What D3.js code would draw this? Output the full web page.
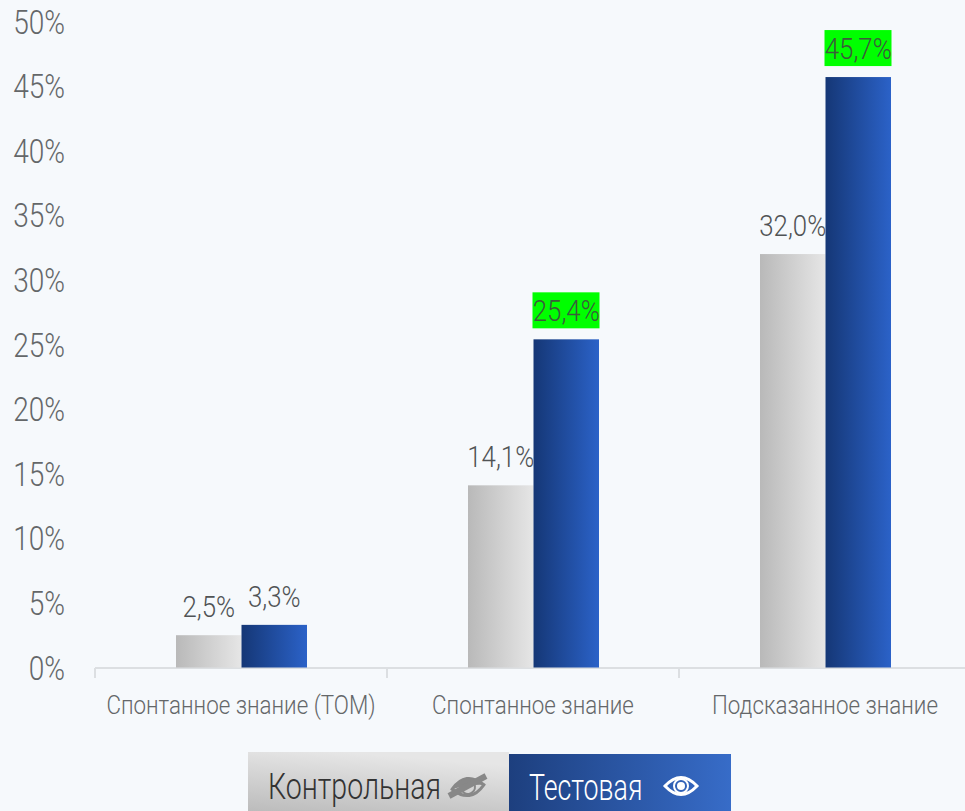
<!DOCTYPE html>
<html>
<head>
<meta charset="utf-8">
<script src="https://cdn.jsdelivr.net/npm/d3@7"></script>
<style>
html, body { margin: 0; padding: 0; background: #f6f9fc; overflow: hidden; }
text { font-family: Roboto, "Liberation Sans", sans-serif; font-weight: 300; }
</style>
</head>
<body>
<div id="chart"></div>
<script>
var categories = ["Спонтанное знание (ТОМ)", "Спонтанное знание", "Подсказанное знание"];
var seriesNames = ["Контрольная", "Тестовая"];
var controlValues = [2.5, 14.1, 32.0];
var testValues = [3.3, 25.4, 45.7];
var labelHighlighted = [false, true, true];
var yTicks = [0, 5, 10, 15, 20, 25, 30, 35, 40, 45, 50];

var width = 965, height = 811;
var svg = d3.select("#chart").append("svg")
    .attr("width", width)
    .attr("height", height)
    .style("display", "block");

var defs = svg.append("defs");
function gradient(id, stops, x2, y2) {
    var g = defs.append("linearGradient").attr("id", id)
        .attr("x1", 0).attr("y1", y2 ? 1 : 0).attr("x2", x2).attr("y2", 0);
    stops.forEach(function(s, i) {
        g.append("stop").attr("offset", i / (stops.length - 1)).attr("stop-color", s);
    });
}
gradient("barGrey", ["#b9b9b9", "#e6e6e6"], 1, 0);
gradient("barBlue", ["#153776", "#2b62c8"], 1, 0);
gradient("legendGrey", ["#bcbcbc", "#e6e6e6"], 0.35, 1);
gradient("legendBlue", ["#1d3f7e", "#376cc8"], 1, 0);

// the reference font is a condensed one, so squeeze the text sideways
function squeeze(sel, px, py, sx) {
    sel.attr("transform", function(d, i) {
        return "translate(" + px(d, i) + "," + py(d, i) + ") scale(" + sx + ",1)";
    });
}

// scales
var x = d3.scaleBand().domain(categories).range([95, 971]);
var inner = d3.scaleBand().domain(seriesNames).range([81, 212]);
var y = d3.scaleLinear().domain([0, 50]).range([667.5, 21.5]);

// axis
svg.append("line")
    .attr("x1", 95).attr("x2", 965)
    .attr("y1", 668).attr("y2", 668)
    .attr("stroke", "#dcdfe2").attr("stroke-width", 2);

categories.forEach(function(d) {
    svg.append("line")
        .attr("x1", x(d)).attr("x2", x(d))
        .attr("y1", 668).attr("y2", 678)
        .attr("stroke", "#dcdfe2").attr("stroke-width", 2);
});

svg.selectAll(".cat").data(categories).enter().append("text")
    .attr("class", "cat")
    .attr("text-anchor", "middle")
    .attr("font-size", 26)
    .attr("fill", "#646769")
    .text(function(d) { return d; })
    .call(squeeze, function(d) { return x(d) + x.bandwidth() / 2; }, function() { return 714; }, 0.86);

// y labels
svg.selectAll(".ytick").data(yTicks).enter().append("text")
    .attr("class", "ytick")
    .attr("text-anchor", "end")
    .attr("font-size", 33)
    .attr("fill", "#646769")
    .text(function(d) { return d + "%"; })
    .call(squeeze, function() { return 65; }, function(d) { return y(d) + 12; }, 0.85);

// bars
function drawSeries(values, name, fill) {
    svg.selectAll(".bar-" + fill).data(values).enter().append("rect")
        .attr("class", "bar-" + fill)
        .attr("x", function(d, i) { return x(categories[i]) + inner(name); })
        .attr("y", function(d) { return y(d); })
        .attr("width", inner.bandwidth())
        .attr("height", function(d) { return y(0) - y(d); })
        .attr("fill", "url(#" + fill + ")");
}
drawSeries(controlValues, seriesNames[0], "barGrey");
drawSeries(testValues, seriesNames[1], "barBlue");

function fmt(d) { return d.toFixed(1).replace(".", ",") + "%"; }

// green highlights sit behind the test labels
testValues.forEach(function(d, i) {
    if (!labelHighlighted[i]) return;
    svg.append("rect")
        .attr("x", x(categories[i]) + inner(seriesNames[1]) - 1)
        .attr("y", y(d) - 47)
        .attr("width", 67)
        .attr("height", 36)
        .attr("fill", "#00ff00");
});

function drawLabels(values, name, cls) {
    svg.selectAll("." + cls).data(values).enter().append("text")
        .attr("class", cls)
        .attr("text-anchor", "middle")
        .attr("font-size", 30)
        .attr("fill", function(d, i) { return cls == "lab-test" && labelHighlighted[i] ? "#3c5a3c" : "#505355"; })
        .text(fmt)
        .call(squeeze, function(d, i) { return x(categories[i]) + inner(name) + inner.bandwidth() / 2; },
            function(d) { return y(d) - 18; }, 0.86);
}
drawLabels(controlValues, seriesNames[0], "lab-control");
drawLabels(testValues, seriesNames[1], "lab-test");

// legend
svg.append("rect").attr("x", 248).attr("y", 752).attr("width", 261).attr("height", 59).attr("fill", "url(#legendGrey)");
svg.append("rect").attr("x", 509).attr("y", 754).attr("width", 222).attr("height", 57).attr("fill", "url(#legendBlue)");

svg.append("text").datum(seriesNames[0])
    .attr("font-size", 37).attr("fill", "#333333").text(seriesNames[0])
    .call(squeeze, function() { return 268; }, function() { return 799; }, 0.77);
svg.append("text").datum(seriesNames[1])
    .attr("font-size", 37).attr("fill", "#ffffff").text(seriesNames[1])
    .call(squeeze, function() { return 529; }, function() { return 800; }, 0.724);

function eye(cx, cy, color, crossed) {
    var g = svg.append("g").attr("transform", "translate(" + cx + "," + cy + ")" + (crossed ? " rotate(-8)" : ""));
    g.append("path")
        .attr("d", "M-16,0 Q0,-17 16,0 Q0,17 -16,0 Z")
        .attr("fill", "none").attr("stroke", color).attr("stroke-width", 3);
    g.append("circle").attr("r", 7).attr("fill", "none").attr("stroke", color).attr("stroke-width", 2);
    if (crossed) {
        g.append("path").attr("d", "M-16,0 Q0,-17 16,0 Q0,-3 -16,0 Z").attr("fill", color);
        svg.append("line").attr("x1", cx - 19).attr("y1", cy + 9).attr("x2", cx + 18).attr("y2", cy - 11)
            .attr("stroke", color).attr("stroke-width", 6);
    } else {
        g.append("circle").attr("r", 4).attr("fill", color);
    }
}
eye(468, 787, "#888888", true);
eye(681, 786, "#ffffff", false);
</script>
</body>
</html>
